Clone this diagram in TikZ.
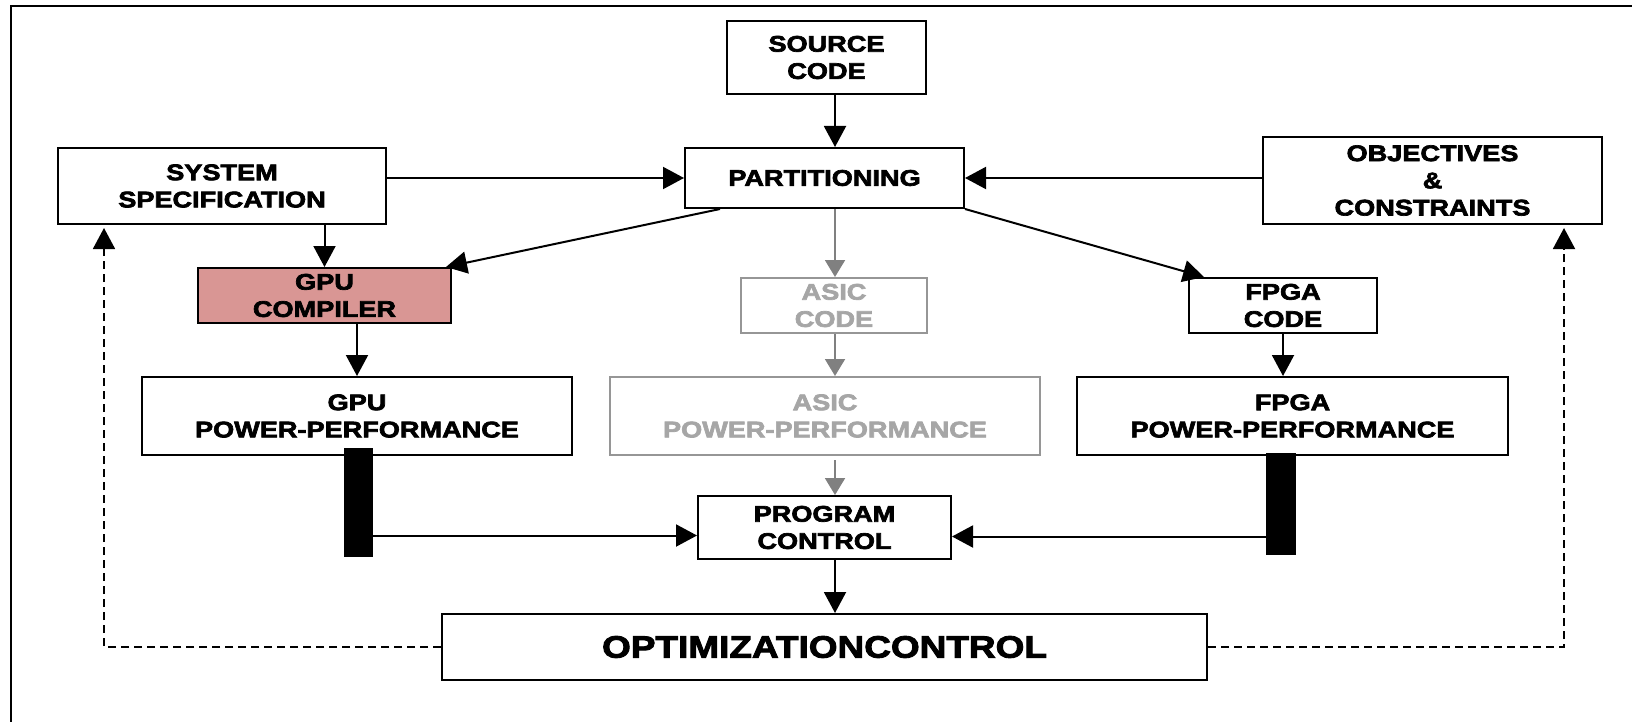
\documentclass[tikz,border=0pt]{standalone}
\usepackage{fontspec}
\newfontfamily\boxfont[FakeStretch=1.2, FakeBold=3]{Liberation Sans}
\usetikzlibrary{positioning,arrows.meta,calc}
\definecolor{gpured}{RGB}{217,150,148}
\definecolor{asicline}{RGB}{150,150,150}
\definecolor{asictext}{RGB}{166,166,166}
\definecolor{asicarrow}{RGB}{128,128,128}

\begin{document}
\begin{tikzpicture}[x=0.5pt, y=-0.5pt,
  font=\boxfont\bfseries\fontsize{11.3pt}{13.6pt}\selectfont,
  box/.style={draw=black, line width=1pt, fill=white, align=center, inner sep=0pt},
  gbox/.style={box, draw=asicline, text=asictext},
  bar/.style={draw=black, fill=black, inner sep=0pt},
  arr/.style={-{Triangle[length=10.5pt, width=11pt]}, line width=1pt},
  garr/.style={-{Triangle[length=8.5pt, width=10pt]}, line width=1pt, asicarrow},
  fb/.style={-{Triangle[length=10.5pt, width=11pt]}, line width=0.9pt, dash pattern=on 4pt off 2.5pt}]
\useasboundingbox (0,0) rectangle (1632,722);
\draw[line width=1.2pt] (11,722) |- (1632,6);

% top row
\node[box, minimum width=99.5pt, minimum height=36.5pt] (src) at (826.5,57.5) {SOURCE\\CODE};
\node[box, minimum width=139.5pt, minimum height=30pt] (part) at (824.5,178) {PARTITIONING};
\node[box, minimum width=164pt, minimum height=38pt] (sys) at (222,186) {SYSTEM\\SPECIFICATION};
\node[box, minimum width=169.5pt, minimum height=43.5pt] (obj) at (1432.5,180.5) {OBJECTIVES\\\&\\CONSTRAINTS};

% code boxes
\node[box, fill=gpured, minimum width=126.5pt, minimum height=27.5pt] (gpuc) at (324.5,295.5) {GPU\\COMPILER};
\node[gbox, minimum width=93pt, minimum height=27.5pt] (asicc) at (834,305.5) {ASIC\\CODE};
\node[box, minimum width=94pt, minimum height=27.5pt] (fpgac) at (1283,305.5) {FPGA\\CODE};

% power-performance
\node[box, minimum width=215pt, minimum height=39pt] (gpupp) at (357,416) {GPU\\POWER-PERFORMANCE};
\node[gbox, minimum width=215pt, minimum height=39pt] (asicpp) at (825,416) {ASIC\\POWER-PERFORMANCE};
\node[box, minimum width=215.5pt, minimum height=39pt] (fpgapp) at (1292.5,416) {FPGA\\POWER-PERFORMANCE};
\node[bar, minimum width=14pt, minimum height=54pt] (gpubar) at (358,502) {};
\node[bar, minimum width=14.5pt, minimum height=50.5pt] (fpgabar) at (1280.5,503.5) {};

% control
\node[box, minimum width=126.5pt, minimum height=31.5pt] (prog) at (824.5,527.5) {PROGRAM\\CONTROL};
\node[box, minimum width=382.5pt, minimum height=33pt, font=\boxfont\bfseries\fontsize{15.4pt}{18pt}\selectfont] (opt) at (824.5,647) {OPTIMIZATIONCONTROL};
\coordinate (spine) at (835,0);

\draw[arr] (src.south -| spine) -- (part.north -| spine);
\draw[arr] (sys.east |- part.west) -- (part.west);
\draw[arr] (obj.west |- part.east) -- (part.east);
\draw[arr] ([xshift=18pt]part.south west) -- ([xshift=-3pt]gpuc.north east);
\draw[arr] (part.south east) -- ([xshift=8pt]fpgac.north west);
\draw[garr] (part.south -| spine) -- (asicc.north -| spine);
\draw[garr] (asicc.south -| spine) -- (asicpp.north -| spine);
\draw[garr] ([yshift=-2pt]asicpp.south -| spine) -- (prog.north -| spine);
\draw[arr] (sys.south -| gpuc) -- (gpuc.north);
\draw[arr] (gpuc.south -| gpupp) -- (gpupp.north);
\draw[arr] (fpgac.south) -- (fpgac.south |- fpgapp.north);
\draw[arr] ([yshift=-4pt]gpubar.east |- prog.west) -- ([yshift=-4pt]prog.west);
\draw[arr] ([yshift=-4.5pt]fpgabar.west |- prog.east) -- ([yshift=-4.5pt]prog.east);
\draw[arr] (prog.south -| spine) -- (opt.north -| spine);
\draw[fb] (opt.west) -| ([xshift=23.5pt, yshift=-1.5pt]sys.south west);
\draw[fb] (opt.east) -| ([xshift=-19.5pt, yshift=-1.5pt]obj.south east);
\end{tikzpicture}
\end{document}
